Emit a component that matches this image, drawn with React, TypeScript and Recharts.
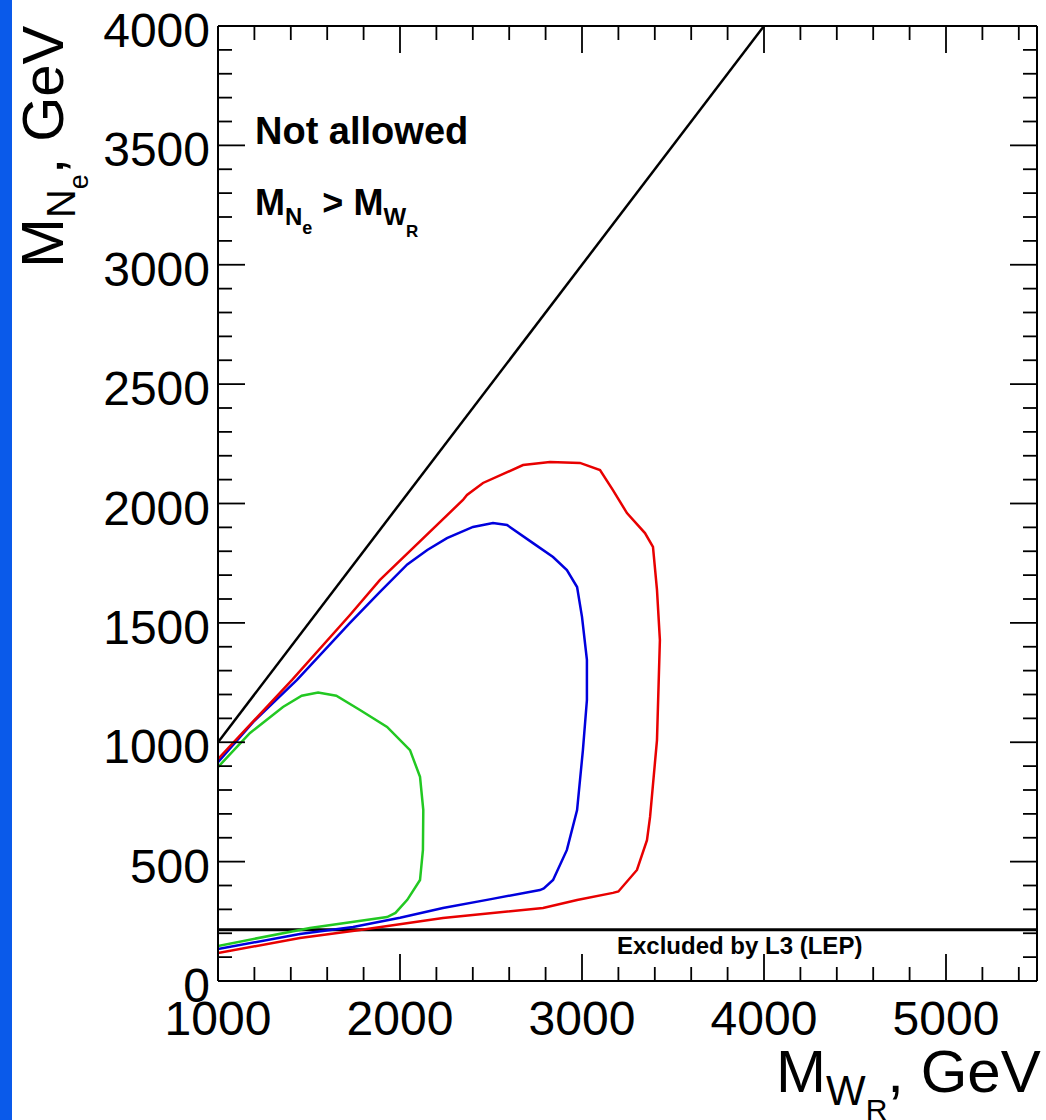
import { LineChart, Line, XAxis, YAxis, ReferenceLine } from "recharts"

type Pt = { x: number; y: number }

// tick positions (GeV)
const xTicks = [1000, 1200, 1400, 1600, 1800, 2000, 2200, 2400, 2600, 2800, 3000, 3200, 3400, 3600, 3800, 4000, 4200, 4400, 4600, 4800, 5000, 5200, 5400]
const xMajor = [1000, 2000, 3000, 4000, 5000]
const yTicks = [
  0, 100, 200, 300, 400, 500, 600, 700, 800, 900, 1000, 1100, 1200, 1300, 1400, 1500, 1600, 1700, 1800, 1900, 2000,
  2100, 2200, 2300, 2400, 2500, 2600, 2700, 2800, 2900, 3000, 3100, 3200, 3300, 3400, 3500, 3600, 3700, 3800, 3900, 4000,
]
const yMajor = [0, 500, 1000, 1500, 2000, 2500, 3000, 3500, 4000]

// kinematic limit M_N = M_W
const diagonal: Pt[] = [
  { x: 1000, y: 1000 },
  { x: 4000, y: 4000 },
]
const lepLimit = 215

const greenContour: Pt[] = [
  { x: 1000, y: 147 }, { x: 1505, y: 222 }, { x: 1929, y: 268 }, { x: 1975, y: 285 }, { x: 2040, y: 340 },
  { x: 2110, y: 423 }, { x: 2126, y: 549 }, { x: 2128, y: 716 }, { x: 2110, y: 855 }, { x: 2055, y: 967 },
  { x: 1929, y: 1064 }, { x: 1780, y: 1135 }, { x: 1650, y: 1195 }, { x: 1550, y: 1208 }, { x: 1460, y: 1195 },
  { x: 1357, y: 1148 }, { x: 1176, y: 1039 }, { x: 1000, y: 896 },
]

const blueContour: Pt[] = [
  { x: 1000, y: 134 }, { x: 1450, y: 197 }, { x: 1742, y: 226 }, { x: 2000, y: 265 }, { x: 2236, y: 306 },
  { x: 2500, y: 343 }, { x: 2769, y: 381 }, { x: 2790, y: 388 }, { x: 2841, y: 423 }, { x: 2917, y: 549 },
  { x: 2973, y: 716 }, { x: 3005, y: 967 }, { x: 3027, y: 1177 }, { x: 3027, y: 1345 }, { x: 3000, y: 1525 },
  { x: 2973, y: 1650 }, { x: 2917, y: 1721 }, { x: 2841, y: 1776 }, { x: 2731, y: 1834 }, { x: 2588, y: 1910 },
  { x: 2511, y: 1918 }, { x: 2401, y: 1902 }, { x: 2258, y: 1855 }, { x: 2150, y: 1805 }, { x: 2040, y: 1745 },
  { x: 1890, y: 1630 }, { x: 1725, y: 1500 }, { x: 1434, y: 1261 }, { x: 1200, y: 1090 }, { x: 1000, y: 917 },
]

const redContour: Pt[] = [
  { x: 1000, y: 117 }, { x: 1450, y: 180 }, { x: 1780, y: 214 }, { x: 2236, y: 264 }, { x: 2786, y: 306 },
  { x: 2973, y: 339 }, { x: 3170, y: 369 }, { x: 3200, y: 375 }, { x: 3302, y: 465 }, { x: 3357, y: 590 },
  { x: 3374, y: 687 }, { x: 3412, y: 1009 }, { x: 3428, y: 1428 }, { x: 3412, y: 1638 }, { x: 3390, y: 1818 },
  { x: 3346, y: 1876 }, { x: 3247, y: 1960 }, { x: 3170, y: 2056 }, { x: 3099, y: 2140 }, { x: 2989, y: 2170 },
  { x: 2824, y: 2174 }, { x: 2676, y: 2161 }, { x: 2456, y: 2086 }, { x: 2368, y: 2036 }, { x: 2346, y: 2015 },
  { x: 1890, y: 1680 }, { x: 1725, y: 1533 }, { x: 1407, y: 1261 }, { x: 1000, y: 930 },
]

const W = 1046
const H = 1120
const PLOT_W = 819
const PLOT_H = 955
const FONT = "'Liberation Sans', Arial, Helvetica, sans-serif"

function XTick(props: any) {
  const { x, y, payload } = props
  const major = xMajor.includes(payload.value)
  const len = major ? 27 : 14
  return (
    <g>
      <line x1={x} x2={x} y1={y} y2={y - len} stroke="#000" strokeWidth={1.8} />
      <line x1={x} x2={x} y1={y - PLOT_H} y2={y - PLOT_H + len} stroke="#000" strokeWidth={1.8} />
      {major && (
        <text x={x} y={y + 54} textAnchor="middle" fontSize={48} fontFamily={FONT} fill="#000">
          {payload.value}
        </text>
      )}
    </g>
  )
}

function YTick(props: any) {
  const { x, y, payload } = props
  const major = yMajor.includes(payload.value)
  const len = major ? 27 : 14
  return (
    <g>
      <line x1={x} x2={x + len} y1={y} y2={y} stroke="#000" strokeWidth={1.8} />
      <line x1={x + PLOT_W} x2={x + PLOT_W - len} y1={y} y2={y} stroke="#000" strokeWidth={1.8} />
      {major && (
        <text x={x - 8} y={y + 21} textAnchor="end" fontSize={48} fontFamily={FONT} fill="#000">
          {payload.value}
        </text>
      )}
    </g>
  )
}

export default function App() {
  return (
    <div style={{ position: "absolute", left: 0, top: 0, width: W, height: H, background: "#fff" }}>
      <div style={{ position: "absolute", left: 0, top: 0, width: 12, height: H, background: "#0a5aea" }} />
      <LineChart width={W} height={H} margin={{ top: 26, right: 9, bottom: 39, left: 8 }}>
        <XAxis
          type="number"
          dataKey="x"
          domain={[1000, 5500]}
          allowDataOverflow
          ticks={xTicks}
          interval={0}
          tickSize={0}
          tickMargin={0}
          tickLine={false}
          tick={<XTick />}
          height={100}
          axisLine={{ stroke: "#000", strokeWidth: 2 }}
        />
        <YAxis
          type="number"
          dataKey="y"
          domain={[0, 4000]}
          allowDataOverflow
          ticks={yTicks}
          interval={0}
          tickSize={0}
          tickMargin={0}
          tickLine={false}
          tick={<YTick />}
          width={210}
          axisLine={{ stroke: "#000", strokeWidth: 2 }}
        />
        <ReferenceLine x={5500} stroke="#000" strokeWidth={2} />
        <ReferenceLine y={4000} stroke="#000" strokeWidth={2} />
        <ReferenceLine y={lepLimit} stroke="#000" strokeWidth={3} />
        <Line data={diagonal} dataKey="y" type="linear" stroke="#000" strokeWidth={2.5} dot={false} isAnimationActive={false} />
        <Line data={greenContour} dataKey="y" type="linear" stroke="#22c822" strokeWidth={2.5} dot={false} isAnimationActive={false} />
        <Line data={blueContour} dataKey="y" type="linear" stroke="#0000dd" strokeWidth={2.5} dot={false} isAnimationActive={false} />
        <Line data={redContour} dataKey="y" type="linear" stroke="#e80000" strokeWidth={2.5} dot={false} isAnimationActive={false} />
      </LineChart>
      <svg
        width={W}
        height={H}
        style={{ position: "absolute", left: 0, top: 0, pointerEvents: "none" }}
        fontFamily={FONT}
      >
        <text x={255} y={144} fontSize={38} fontWeight="bold" fill="#000">
          Not allowed
        </text>
        <text x={255} y={215} fontSize={36} fontWeight="bold" fill="#000">
          M
          <tspan fontSize={24} dy={10}>N</tspan>
          <tspan fontSize={18} dy={9}>e</tspan>
          <tspan fontSize={36} dy={-19}>{" > M"}</tspan>
          <tspan fontSize={24} dy={10}>W</tspan>
          <tspan fontSize={17} dy={12}>R</tspan>
        </text>
        <text x={617} y={954} fontSize={24} fontWeight="bold" fill="#000">
          Excluded by L3 (LEP)
        </text>
        <text x={776} y={1092} fontSize={60} fill="#000">
          M
          <tspan fontSize={42} dy={13}>W</tspan>
          <tspan fontSize={30} dy={15}>R</tspan>
          <tspan fontSize={60} dy={-28}>, GeV</tspan>
        </text>
        <text x={63} y={268} transform="rotate(-90, 63, 268)" fontSize={60} fill="#000">
          M
          <tspan fontSize={40} dy={12}>N</tspan>
          <tspan fontSize={27} dy={13}>e</tspan>
          <tspan fontSize={58} dy={-25}>, GeV</tspan>
        </text>
      </svg>
    </div>
  )
}
